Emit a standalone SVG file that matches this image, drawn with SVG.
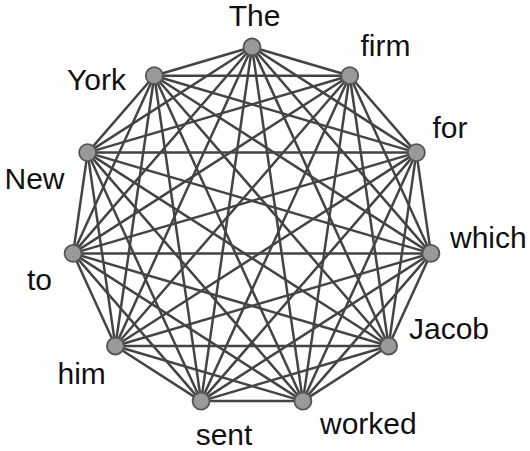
<svg xmlns="http://www.w3.org/2000/svg" width="530" height="451" viewBox="0 0 530 451">
<style>
.e{stroke:#444;stroke-width:2.5;stroke-linecap:round}
.n{fill:#999;stroke:#555;stroke-width:1.8}
.t{font-family:"Liberation Sans",Arial,sans-serif;font-size:30px;fill:#111}
</style>
<rect width="530" height="451" fill="#fff"/>
<g id="edges">
<line class="e" x1="252" y1="47" x2="349.7" y2="75.7"/>
<line class="e" x1="252" y1="47" x2="416.4" y2="152.6"/>
<line class="e" x1="252" y1="47" x2="430.9" y2="253.4"/>
<line class="e" x1="252" y1="47" x2="388.6" y2="346"/>
<line class="e" x1="252" y1="47" x2="302.9" y2="401.1"/>
<line class="e" x1="252" y1="47" x2="201.1" y2="401.1"/>
<line class="e" x1="252" y1="47" x2="115.4" y2="346"/>
<line class="e" x1="252" y1="47" x2="73.1" y2="253.4"/>
<line class="e" x1="252" y1="47" x2="87.6" y2="152.6"/>
<line class="e" x1="252" y1="47" x2="154.3" y2="75.7"/>
<line class="e" x1="349.7" y1="75.7" x2="416.4" y2="152.6"/>
<line class="e" x1="349.7" y1="75.7" x2="430.9" y2="253.4"/>
<line class="e" x1="349.7" y1="75.7" x2="388.6" y2="346"/>
<line class="e" x1="349.7" y1="75.7" x2="302.9" y2="401.1"/>
<line class="e" x1="349.7" y1="75.7" x2="201.1" y2="401.1"/>
<line class="e" x1="349.7" y1="75.7" x2="115.4" y2="346"/>
<line class="e" x1="349.7" y1="75.7" x2="73.1" y2="253.4"/>
<line class="e" x1="349.7" y1="75.7" x2="87.6" y2="152.6"/>
<line class="e" x1="349.7" y1="75.7" x2="154.3" y2="75.7"/>
<line class="e" x1="416.4" y1="152.6" x2="430.9" y2="253.4"/>
<line class="e" x1="416.4" y1="152.6" x2="388.6" y2="346"/>
<line class="e" x1="416.4" y1="152.6" x2="302.9" y2="401.1"/>
<line class="e" x1="416.4" y1="152.6" x2="201.1" y2="401.1"/>
<line class="e" x1="416.4" y1="152.6" x2="115.4" y2="346"/>
<line class="e" x1="416.4" y1="152.6" x2="73.1" y2="253.4"/>
<line class="e" x1="416.4" y1="152.6" x2="87.6" y2="152.6"/>
<line class="e" x1="416.4" y1="152.6" x2="154.3" y2="75.7"/>
<line class="e" x1="430.9" y1="253.4" x2="388.6" y2="346"/>
<line class="e" x1="430.9" y1="253.4" x2="302.9" y2="401.1"/>
<line class="e" x1="430.9" y1="253.4" x2="201.1" y2="401.1"/>
<line class="e" x1="430.9" y1="253.4" x2="115.4" y2="346"/>
<line class="e" x1="430.9" y1="253.4" x2="73.1" y2="253.4"/>
<line class="e" x1="430.9" y1="253.4" x2="87.6" y2="152.6"/>
<line class="e" x1="430.9" y1="253.4" x2="154.3" y2="75.7"/>
<line class="e" x1="388.6" y1="346" x2="302.9" y2="401.1"/>
<line class="e" x1="388.6" y1="346" x2="201.1" y2="401.1"/>
<line class="e" x1="388.6" y1="346" x2="115.4" y2="346"/>
<line class="e" x1="388.6" y1="346" x2="73.1" y2="253.4"/>
<line class="e" x1="388.6" y1="346" x2="87.6" y2="152.6"/>
<line class="e" x1="388.6" y1="346" x2="154.3" y2="75.7"/>
<line class="e" x1="302.9" y1="401.1" x2="201.1" y2="401.1"/>
<line class="e" x1="302.9" y1="401.1" x2="115.4" y2="346"/>
<line class="e" x1="302.9" y1="401.1" x2="73.1" y2="253.4"/>
<line class="e" x1="302.9" y1="401.1" x2="87.6" y2="152.6"/>
<line class="e" x1="302.9" y1="401.1" x2="154.3" y2="75.7"/>
<line class="e" x1="201.1" y1="401.1" x2="115.4" y2="346"/>
<line class="e" x1="201.1" y1="401.1" x2="73.1" y2="253.4"/>
<line class="e" x1="201.1" y1="401.1" x2="87.6" y2="152.6"/>
<line class="e" x1="201.1" y1="401.1" x2="154.3" y2="75.7"/>
<line class="e" x1="115.4" y1="346" x2="73.1" y2="253.4"/>
<line class="e" x1="115.4" y1="346" x2="87.6" y2="152.6"/>
<line class="e" x1="115.4" y1="346" x2="154.3" y2="75.7"/>
<line class="e" x1="73.1" y1="253.4" x2="87.6" y2="152.6"/>
<line class="e" x1="73.1" y1="253.4" x2="154.3" y2="75.7"/>
<line class="e" x1="87.6" y1="152.6" x2="154.3" y2="75.7"/>
</g>
<g id="n0"><circle class="n" cx="252" cy="47" r="8.5"/><text class="t" x="254.5" y="26" text-anchor="middle">The</text></g>
<g id="n1"><circle class="n" cx="349.7" cy="75.7" r="8.5"/><text class="t" x="360.5" y="56">firm</text></g>
<g id="n2"><circle class="n" cx="416.4" cy="152.6" r="8.5"/><text class="t" x="432.5" y="138">for</text></g>
<g id="n3"><circle class="n" cx="430.9" cy="253.4" r="8.5"/><text class="t" x="450" y="247.5">which</text></g>
<g id="n4"><circle class="n" cx="388.6" cy="346" r="8.5"/><text class="t" x="409" y="338.5">Jacob</text></g>
<g id="n5"><circle class="n" cx="302.9" cy="401.1" r="8.5"/><text class="t" x="320" y="433.5">worked</text></g>
<g id="n6"><circle class="n" cx="201.1" cy="401.1" r="8.5"/><text class="t" x="224" y="445" text-anchor="middle">sent</text></g>
<g id="n7"><circle class="n" cx="115.4" cy="346" r="8.5"/><text class="t" x="57.5" y="383.5">him</text></g>
<g id="n8"><circle class="n" cx="73.1" cy="253.4" r="8.5"/><text class="t" x="27" y="290">to</text></g>
<g id="n9"><circle class="n" cx="87.6" cy="152.6" r="8.5"/><text class="t" x="4.5" y="188.5">New</text></g>
<g id="n10"><circle class="n" cx="154.3" cy="75.7" r="8.5"/><text class="t" x="67" y="90">York</text></g>
</svg>
